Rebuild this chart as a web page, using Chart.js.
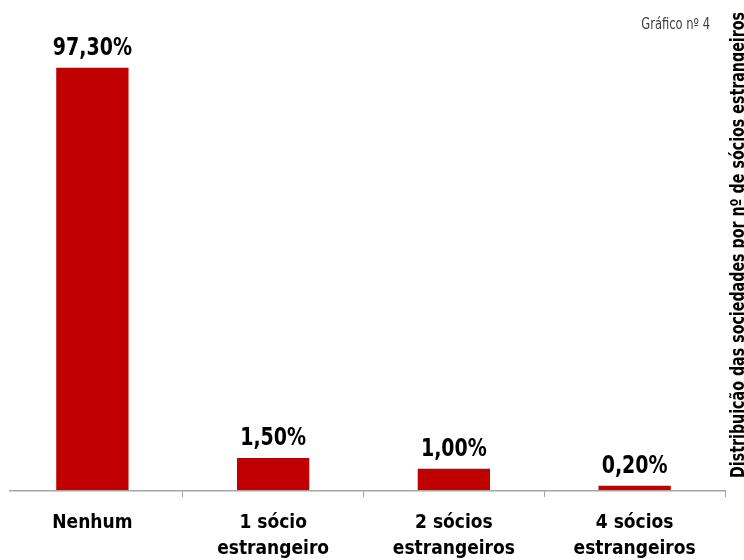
<!DOCTYPE html>
<html>
<head>
<meta charset="utf-8">
<script src="https://cdn.jsdelivr.net/npm/chart.js@4.4.1/dist/chart.umd.min.js"></script>
<style>
  html, body { margin: 0; padding: 0; background: #ffffff; }
  #wrap { width: 744px; height: 560px; position: relative; overflow: hidden; }
</style>
</head>
<body>
<div id="wrap"><canvas id="c" width="744" height="560"></canvas></div>
<script>
// ---- data ----
const categories = [
  ['Nenhum'],
  ['1 sócio', 'estrangeiro'],
  ['2 sócios', 'estrangeiros'],
  ['4 sócios', 'estrangeiros']
];
const shares = [97.3, 1.5, 1.0, 0.2];
const chartNumber = 'Gráfico nº 4';
const sideTitle = 'Distribuição das sociedades por nº de sócios estrangeiros';

// ---- fonts ----
const BOLD_FAMILY = "'DejaVu Sans Condensed', 'DejaVu Sans', sans-serif";

// ---- scale with a break: the low range (0-2 %) gets a taller share of the axis ----
class BrokenLinearScale extends Chart.LinearScale {
  _brk() {
    const b = this.options.breakAt != null ? this.options.breakAt : 2;
    const s = this.options.lowShare != null ? this.options.lowShare : 0.1;
    return [b, s];
  }
  getPixelForValue(value) {
    const [b, s] = this._brk();
    const min = this.min, max = this.max;
    let d;
    if (value <= b) d = (value - min) / (b - min) * s;
    else d = s + (value - b) / (max - b) * (1 - s);
    return this.getPixelForDecimal(d);
  }
  getValueForPixel(pixel) {
    const [b, s] = this._brk();
    const d = this.getDecimalForPixel(pixel);
    if (d <= s) return this.min + d / s * (b - this.min);
    return b + (d - s) / (1 - s) * (this.max - b);
  }
}
BrokenLinearScale.id = 'brokenLinear';
BrokenLinearScale.defaults = Chart.LinearScale.defaults;
Chart.register(BrokenLinearScale);

const fmt = v => v.toFixed(2).replace('.', ',') + '%';

// draw text squeezed horizontally (condensed look)
function squeezedText(ctx, text, x, y, font, sx, align, color) {
  ctx.save();
  ctx.font = font;
  ctx.fillStyle = color;
  ctx.textBaseline = 'alphabetic';
  ctx.textAlign = 'left';
  const w = ctx.measureText(text).width * sx;
  let left = x;
  if (align === 'center') left = x - w / 2;
  else if (align === 'right') left = x - w;
  ctx.translate(left, y);
  ctx.scale(sx, 1);
  ctx.fillText(text, 0, 0);
  ctx.restore();
}

const decor = {
  id: 'decor',
  afterDatasetsDraw(chart) {
    const ctx = chart.ctx;
    const area = chart.chartArea;
    // x axis line
    ctx.save();
    ctx.strokeStyle = '#a6a6a6';
    ctx.lineWidth = 1.5;
    ctx.beginPath();
    ctx.moveTo(9, area.bottom + 0.75);
    ctx.lineTo(area.right, area.bottom + 0.75);
    ctx.stroke();
    ctx.restore();

    // value labels
    const meta = chart.getDatasetMeta(0);
    meta.data.forEach((bar, i) => {
      squeezedText(ctx, fmt(shares[i]), bar.x, bar.y - 13, "bold 24px " + BOLD_FAMILY, 0.88, 'center', '#000000');
    });

    // chart number
    squeezedText(ctx, chartNumber, 710, 29, "16px " + BOLD_FAMILY, 0.8, 'right', '#404040');

    // side title (rotated, reading upwards)
    ctx.save();
    ctx.translate(744, 478);
    ctx.rotate(-Math.PI / 2);
    ctx.font = "bold 19px " + BOLD_FAMILY;
    const tw = ctx.measureText(sideTitle).width;
    const sx = 466 / tw;
    ctx.scale(sx, 1);
    ctx.fillStyle = '#000000';
    ctx.textAlign = 'left';
    ctx.textBaseline = 'alphabetic';
    ctx.fillText(sideTitle, 0, 0);
    ctx.restore();
  }
};

new Chart(document.getElementById('c'), {
  type: 'bar',
  data: {
    labels: categories,
    datasets: [{
      data: shares,
      backgroundColor: '#c00000',
      borderWidth: 0,
      barPercentage: 0.4,
      categoryPercentage: 1.0
    }]
  },
  options: {
    responsive: false,
    animation: false,
    devicePixelRatio: 1,
    layout: { padding: { left: 2, right: 19, top: 57, bottom: 0 } },
    plugins: { legend: { display: false }, tooltip: { enabled: false }, title: { display: false } },
    scales: {
      x: {
        type: 'category',
        offset: true,
        border: { display: false },
        grid: {
          offset: true,
          drawOnChartArea: false,
          drawTicks: true,
          tickLength: 7,
          lineWidth: 1,
          color: ctx => (ctx.index === 0 ? 'rgba(0,0,0,0)' : '#a6a6a6')
        },
        ticks: {
          color: '#000000',
          padding: 13,
          maxRotation: 0,
          autoSkip: false,
          font: { family: BOLD_FAMILY, size: 19, weight: 'bold', lineHeight: '26px' }
        },
        afterFit(scale) { scale.height = 70; }
      },
      y: {
        type: 'brokenLinear',
        display: false,
        min: 0,
        max: 100,
        breakAt: 2,
        lowShare: 0.0984
      }
    }
  },
  plugins: [decor]
});
</script>
</body>
</html>
